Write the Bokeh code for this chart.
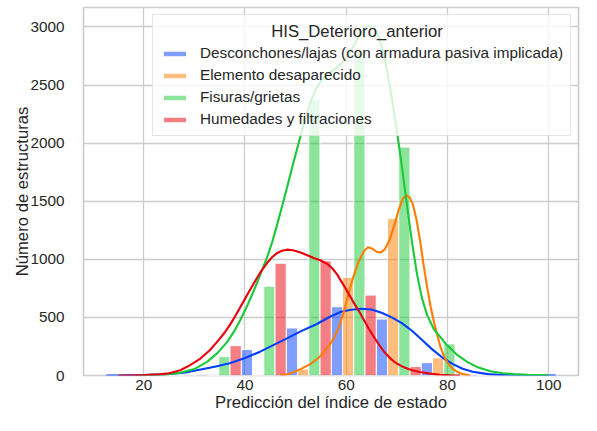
from bokeh.plotting import figure
from bokeh.models import Range1d, FixedTicker, ColumnDataSource
from bokeh.embed import file_html
from bokeh.resources import INLINE

# ---------------- data ----------------
categories = [
    "Desconchones/lajas (con armadura pasiva implicada)",
    "Elemento desaparecido",
    "Fisuras/grietas",
    "Humedades y filtraciones",
]
colors = ["#023eff", "#ff7c00", "#1ac938", "#e8000b"]

bin_start = 12.6
bin_width = 8.89

counts_desconchones = [1, 3, 10, 223, 409, 592, 486, 111, 8, 1]
counts_elemento = [0, 0, 0, 2, 55, 846, 1352, 152, 1, 0]
counts_fisuras = [1, 3, 163, 769, 2374, 2788, 1966, 272, 6, 1]
counts_humedades = [1, 3, 257, 966, 986, 692, 77, 2, 0, 0]

kde_desconchones_x = [12.6, 16, 20, 24, 28, 31, 34, 37, 40, 43, 46, 48.3, 51, 54.2, 57, 59, 61, 63,
                      65, 67, 69, 71, 73, 75, 77, 79, 81, 83, 85, 88, 91, 95, 101.4]
kde_desconchones_y = [0, 1, 4, 10, 25, 50, 75, 105, 150, 205, 270, 320, 380, 443, 510, 548, 566, 575,
                      568, 540, 500, 450, 385, 305, 225, 155, 100, 58, 32, 12, 4, 1.5, 0]

kde_elemento_x = [47, 49, 51, 53, 55, 56.5, 57.5, 58.5, 59.5, 60.5, 61.5, 62.5, 63.5, 64.3, 65.2, 66.0,
                  66.8, 67.6, 68.5, 69.5, 70.4, 71.2, 71.8, 72.5, 73.2, 73.9, 74.6, 75.3, 76.0, 76.7,
                  77.4, 78.1, 78.7, 79.4, 80.1, 81.0, 82.0, 83.0, 84.5]
kde_elemento_y = [0, 18, 55, 100, 170, 250, 315, 410, 540, 710, 860, 985, 1070, 1103, 1090, 1065,
                  1058, 1085, 1160, 1290, 1430, 1520, 1552, 1535, 1470, 1340, 1160, 950, 760, 590,
                  450, 330, 235, 160, 105, 60, 30, 12, 0]

kde_fisuras_x = [19, 22, 25, 27.2, 30, 32.5, 34.5, 36.5, 38, 39.1, 40.5, 41.7, 43, 44.4, 45.4, 46.3,
                 47.3, 48.3, 49.3, 50.3, 51.6, 52.9, 54, 55, 56.2, 57.5, 58.5, 59.5, 60.5, 61.5, 62.5,
                 63.5, 64.5, 65.5, 66.4, 67.3, 68.1, 69, 70, 71, 72, 73, 74, 75, 76, 77.3, 79.9, 82,
                 83.9, 86, 88.5, 91, 93.1, 96, 100]
kde_fisuras_y = [0, 4, 12, 23, 55, 117, 190, 289, 390, 480, 605, 725, 865, 1020, 1150, 1290,
                 1450, 1615, 1785, 1950, 2165, 2350, 2465, 2535, 2588, 2630, 2662, 2705, 2765, 2840, 2920,
                 2980, 3010, 2995, 2920, 2790, 2620, 2390, 2110, 1800, 1470, 1150, 870, 660, 520, 400, 262,
                 175, 117, 70, 37, 20, 12, 5, 1]

kde_humedades_x = [15, 18, 20, 23, 25, 27.2, 29, 31.2, 33, 34.5, 36, 37.1, 38.2, 39.1, 40.4, 41.7, 43,
                   44.4, 45.4, 46.3, 47.3, 48.3, 49.5, 51, 52.3, 53.6, 55, 56.2, 57.2, 58.2, 59, 60,
                   60.8, 61.7, 62.6, 63.5, 64.5, 65.5, 66.6, 67.6, 68.6, 69.8, 71.4, 73, 74.6, 76.5,
                   78.5, 80.5, 82.5]
kde_humedades_y = [0, 2, 4, 10, 20, 45, 85, 146, 215, 289, 370, 440, 520, 590, 690, 790, 885,
                   970, 1020, 1052, 1074, 1083, 1078, 1058, 1035, 1012, 990, 962, 925, 870, 812, 740,
                   680, 612, 548, 478, 400, 330, 258, 200, 152, 108, 70, 46, 30, 16,
                   7, 2, 0]

x_ticks = [20, 40, 60, 80, 100]
y_ticks = [0, 500, 1000, 1500, 2000, 2500, 3000]

x_title = "Predicción del índice de estado"
y_title = "Número de estructuras"
legend_title = "HIS_Deterioro_anterior"

all_counts = [counts_desconchones, counts_elemento, counts_fisuras, counts_humedades]
all_kde = [
    (kde_desconchones_x, kde_desconchones_y),
    (kde_elemento_x, kde_elemento_y),
    (kde_fisuras_x, kde_fisuras_y),
    (kde_humedades_x, kde_humedades_y),
]

# ---------------- figure ----------------
FONT = "Liberation Sans"
TXT = "#262626"

p = figure(
    width=581, height=415,
    output_backend="svg", toolbar_location=None,
    x_range=Range1d(8.1, 105.9), y_range=Range1d(0, 3167),
    min_border_left=83, min_border_right=3, min_border_top=7, min_border_bottom=40,
)
p.background_fill_color = "white"
p.border_fill_color = "white"
p.outline_line_color = "#cccccc"
p.outline_line_width = 1.7

n_cat = len(categories)
bar_w = bin_width / n_cat
for k, (cat, col, counts) in enumerate(zip(categories, colors, all_counts)):
    xs = [bin_start + i * bin_width + (k + 0.5) * bar_w for i in range(len(counts))]
    src = ColumnDataSource(dict(x=xs, top=counts))
    p.vbar(x="x", top="top", width=bar_w, bottom=0, source=src,
           fill_color=col, fill_alpha=0.5, line_color="white", line_width=1,
           legend_label=cat)

for col, (kx, ky) in zip(colors, all_kde):
    p.line(kx, ky, line_color=col, line_width=2.1)

# axes
for ax in (p.xaxis, p.yaxis):
    ax.axis_line_color = None
    ax.major_tick_line_color = None
    ax.minor_tick_line_color = None
    ax.major_tick_out = 0
    ax.major_label_text_font = FONT
    ax.major_label_text_font_size = "15.3px"
    ax.major_label_text_color = TXT
    ax.axis_label_text_font = FONT
    ax.axis_label_text_font_size = "16.7px"
    ax.axis_label_text_font_style = "normal"
    ax.axis_label_text_color = TXT

p.xaxis.ticker = FixedTicker(ticks=x_ticks)
p.yaxis.ticker = FixedTicker(ticks=y_ticks)
p.xaxis.axis_label = x_title
p.yaxis.axis_label = y_title
p.xaxis.major_label_standoff = 4
p.xaxis.axis_label_standoff = 0
p.yaxis.major_label_standoff = 19
p.yaxis.axis_label_standoff = -5

p.xgrid.grid_line_color = "#cccccc"
p.ygrid.grid_line_color = "#cccccc"
p.xgrid.grid_line_width = 1.3
p.ygrid.grid_line_width = 1.3

# legend (title centred over the entries with non-breaking spaces)
lg = p.legend[0]
lg.location = "top_right"
lg.margin = 7
lg.padding = 7
lg.spacing = 4
lg.label_height = 18
lg.glyph_width = 29
lg.glyph_height = 7
lg.label_standoff = 11
lg.label_text_font = FONT
lg.label_text_font_size = "15.3px"
lg.label_text_color = TXT
lg.title = "\u00a0" * 24 + legend_title
lg.title_text_font = FONT
lg.title_text_font_size = "16.7px"
lg.title_text_font_style = "normal"
lg.title_text_color = TXT
lg.title_standoff = 2
lg.background_fill_color = "white"
lg.background_fill_alpha = 0.8
lg.border_line_color = "#cccccc"
lg.border_line_width = 1.2

open("out.html", "w").write(file_html(p, INLINE))
